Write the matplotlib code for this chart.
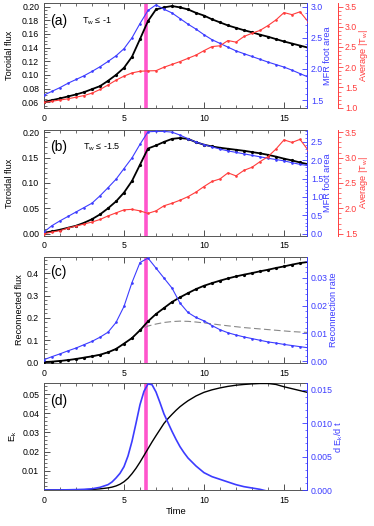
import numpy as np
import matplotlib
matplotlib.use("Agg")
import matplotlib.pyplot as plt
from matplotlib.ticker import MultipleLocator, FormatStrFormatter, FixedLocator

plt.rcParams['font.family'] = ['Liberation Sans', 'DejaVu Sans']
plt.rcParams['mathtext.fontset'] = 'custom'
plt.rcParams['mathtext.rm'] = 'Liberation Sans'
plt.rcParams['mathtext.it'] = 'Liberation Sans'
plt.rcParams['font.size'] = 6.3

# time grid of the sampled curves (0 to 16.5, step 0.5)
time = np.arange(34) * 0.5

# (a) Tw <= -1
a_flux = [0.0605, 0.063, 0.0655, 0.0684, 0.0713, 0.0747, 0.0791, 0.0835, 0.0913, 0.100,
          0.1104, 0.1266, 0.1525, 0.179, 0.196, 0.199, 0.201, 0.199, 0.196, 0.191,
          0.187, 0.1815, 0.177, 0.1725, 0.169, 0.1655, 0.1625, 0.159, 0.156, 0.1525,
          0.149, 0.146, 0.143, 0.140]
a_area = [1.58, 1.64, 1.70, 1.77, 1.83, 1.89, 1.96, 2.035, 2.12, 2.21,
          2.325, 2.50, 2.73, 2.94, 3.03, 2.96, 2.90, 2.81, 2.72, 2.64,
          2.55, 2.47, 2.41, 2.35, 2.29, 2.245, 2.20, 2.155, 2.11, 2.07,
          2.03, 1.98, 1.925, 1.87]
a_tw = [1.13, 1.16, 1.19, 1.22, 1.26, 1.30, 1.36, 1.45, 1.56, 1.68,
        1.78, 1.86, 1.90, 1.91, 1.915, 2.00, 2.07, 2.14, 2.22, 2.30,
        2.41, 2.51, 2.53, 2.66, 2.62, 2.76, 2.84, 2.91, 3.03, 3.17,
        3.35, 3.30, 3.37, 3.13]

# (b) Tw <= -1.5
b_flux = [0.002, 0.0045, 0.0078, 0.0117, 0.0156, 0.0214, 0.0286, 0.038, 0.050, 0.0636,
          0.081, 0.104, 0.136, 0.168, 0.174, 0.181, 0.187, 0.1887, 0.187, 0.1805,
          0.1755, 0.172, 0.1695, 0.1675, 0.1655, 0.1635, 0.161, 0.1585, 0.1555, 0.152,
          0.148, 0.1445, 0.1405, 0.137]
b_area = [0.05, 0.22, 0.35, 0.47, 0.59, 0.71, 0.83, 1.03, 1.25, 1.48,
          1.77, 2.06, 2.43, 2.77, 2.78, 2.78, 2.76, 2.68, 2.58, 2.49,
          2.42, 2.36, 2.30, 2.25, 2.21, 2.17, 2.13, 2.09, 2.05, 2.015,
          1.98, 1.93, 1.885, 1.85]
b_tw = [1.50, 1.53, 1.56, 1.61, 1.65, 1.69, 1.73, 1.78, 1.85, 1.91,
        1.97, 1.98, 1.95, 1.90, 1.95, 2.05, 2.10, 2.16, 2.23, 2.32,
        2.43, 2.53, 2.58, 2.70, 2.64, 2.75, 2.81, 2.92, 3.02, 3.17,
        3.35, 3.30, 3.36, 3.15]

# (c) reconnected flux and reconnection rate
c_flux = [0.001, 0.003, 0.006, 0.010, 0.015, 0.021, 0.027, 0.034, 0.045, 0.060,
          0.084, 0.109, 0.144, 0.184, 0.217, 0.244, 0.271, 0.292, 0.311, 0.329,
          0.344, 0.356, 0.367, 0.377, 0.386, 0.394, 0.401, 0.409, 0.416, 0.424,
          0.431, 0.439, 0.446, 0.451]
c_ref = [0.001, 0.003, 0.006, 0.010, 0.015, 0.021, 0.027, 0.034, 0.045, 0.060,
         0.084, 0.109, 0.144, 0.163, 0.172, 0.179, 0.183, 0.185, 0.184, 0.181,
         0.177, 0.173, 0.168, 0.164, 0.160, 0.156, 0.153, 0.150, 0.147, 0.144,
         0.141, 0.138, 0.136, 0.134]
c_rate = [0.0005, 0.0016, 0.0026, 0.0037, 0.0047, 0.0059, 0.0071, 0.0086, 0.0104, 0.0139,
          0.0197, 0.0283, 0.0355, 0.0371, 0.0335, 0.0299, 0.0263, 0.0209, 0.0175, 0.0157,
          0.0145, 0.0128, 0.0113, 0.0102, 0.0094, 0.0087, 0.0081, 0.0075, 0.0069, 0.0065,
          0.0060, 0.0056, 0.0052, 0.0048]

# (d) Ek and dEk/dt
t_d = [0, 0.5, 1, 1.5, 2, 2.5, 3, 3.5, 4, 4.25, 4.5, 4.75, 5, 5.25, 5.5, 5.75,
       6, 6.25, 6.5, 6.75, 7, 7.25, 7.5, 7.75, 8, 8.25, 8.5, 8.75, 9, 9.5,
       10, 10.5, 11, 11.5, 12, 12.5, 13, 13.5, 14, 14.5, 15, 15.5, 16, 16.5]
ek = [0.0, 0.0, 0.0, 0.00005, 0.0001, 0.00015, 0.0003, 0.0006, 0.0011, 0.0015,
      0.0021, 0.0030, 0.0043, 0.0061, 0.0085, 0.0113, 0.0145, 0.018, 0.0215, 0.025,
      0.0283, 0.0315, 0.0347, 0.0372, 0.0394, 0.0415, 0.0434, 0.045, 0.0465, 0.049,
      0.0509, 0.0522, 0.0532, 0.054, 0.0546, 0.055, 0.0553, 0.0555, 0.0555, 0.0550,
      0.0538, 0.0528, 0.0518, 0.0508]
dek = [0.0, 0.0, 0.00001, 0.00003, 0.00006, 0.0001, 0.00018, 0.0004, 0.0008, 0.0012,
       0.0018, 0.0025, 0.0035, 0.0051, 0.0073, 0.0100, 0.0128, 0.0148, 0.0159, 0.0158,
       0.0147, 0.0131, 0.0114, 0.0101, 0.0088, 0.0076, 0.0065, 0.0056, 0.0048, 0.0036,
       0.0026, 0.0020, 0.0016, 0.0012, 0.0008, 0.0005, 0.0003, 0.0001, -0.0002, np.nan,
       np.nan, np.nan, np.nan, np.nan]

t_peak = 6.37
BLUE = '#3c3cff'
RED = '#ff3c3c'
MAG = '#ff55cc'
W, H = 374, 526


def px(x, y):
    return x / W, 1 - y / H


def base(ax):
    ax.set_xlim(0, 16.42)
    ax.xaxis.set_major_locator(MultipleLocator(5))
    ax.xaxis.set_minor_locator(MultipleLocator(1))
    ax.tick_params(which='both', direction='in', top=True, right=False, pad=3.5,
                   color='#333333')
    ax.tick_params(which='major', length=4, width=0.6)
    ax.tick_params(which='minor', length=2, width=0.5)
    ax.tick_params(axis='x', pad=4)
    for s in ax.spines.values():
        s.set_linewidth(0.7)
        s.set_color('#555555')
    ax.axvline(t_peak, color=MAG, lw=2.6, zorder=0.5)


def right(ax, color, pos=None):
    tw = ax.twinx()
    tw.set_xlim(ax.get_xlim())
    if pos is not None:
        tw.spines['right'].set_position(('axes', pos))
        tw.tick_params(which='both', direction='out', pad=1.5)
    else:
        tw.tick_params(which='both', direction='in', pad=3)
    tw.tick_params(which='major', length=3.5, width=0.6, colors=color)
    tw.tick_params(which='minor', length=1.8, width=0.5, colors=color)
    tw.spines['right'].set_color(color)
    tw.spines['right'].set_linewidth(0.7)
    for k in ('left', 'top', 'bottom'):
        tw.spines[k].set_visible(False)
    return tw


def ylab(x, y0, y1, text, color='black'):
    fig.text(*px(x, (y0 + y1) / 2), text, rotation=90, ha='center', va='center',
             color=color, fontsize=6.6)


fig = plt.figure(figsize=(3.74, 5.26), dpi=100)
x0, x1 = 44, 306.7
rows = [(3.3, 108.3), (130, 235.7), (256.7, 363.3), (383.3, 490)]
axes = []
for top, bot in rows:
    ax = fig.add_axes([x0 / W, 1 - bot / H, (x1 - x0) / W, (bot - top) / H])
    base(ax)
    axes.append(ax)

mk = dict(marker='o', ms=2.3, mew=0)

# panel (a)
ax = axes[0]
ax.plot(time, a_flux, color='black', lw=1.3, **mk, zorder=3)
ax.set_ylim(0.051, 0.205)
ax.yaxis.set_major_locator(MultipleLocator(0.02))
ax.yaxis.set_minor_locator(MultipleLocator(0.005))
ax.yaxis.set_major_formatter(FormatStrFormatter('%.2f'))
tb = right(ax, BLUE)
tb.plot(time, a_area, color=BLUE, lw=0.8, marker='o', ms=1.9, mew=0)
tb.set_ylim(1.367, 3.055)
tb.yaxis.set_major_locator(MultipleLocator(0.5))
tb.yaxis.set_minor_locator(MultipleLocator(0.1))
tb.yaxis.set_major_formatter(FormatStrFormatter('%.1f'))
tr = right(ax, RED, 1.119)
tr.plot(time, a_tw, color=RED, lw=0.8, marker='o', ms=1.9, mew=0)
tr.set_ylim(0.985, 3.58)
tr.yaxis.set_major_locator(MultipleLocator(0.5))
tr.yaxis.set_minor_locator(MultipleLocator(0.1))
tr.yaxis.set_major_formatter(FormatStrFormatter('%.1f'))
ax.text(0.022, 0.83, '(a)', transform=ax.transAxes, fontsize=10, va='center')
ax.text(0.145, 0.83, r'T$_\mathrm{w}$ ≤ -1', transform=ax.transAxes, fontsize=6.5,
        va='center')
ylab(10, *rows[0], 'Toroidal flux')
ylab(327, *rows[0], 'MFR foot area', BLUE)
ylab(364, *rows[0], r'Average |T$_\mathrm{w}$|', RED)

# panel (b)
ax = axes[1]
ax.plot(time, b_flux, color='black', lw=1.3, **mk, zorder=3)
ax.set_ylim(-0.004, 0.2045)
ax.yaxis.set_major_locator(MultipleLocator(0.05))
ax.yaxis.set_minor_locator(MultipleLocator(0.01))
ax.yaxis.set_major_formatter(FormatStrFormatter('%.2f'))
tb = right(ax, BLUE)
tb.plot(time, b_area, color=BLUE, lw=0.8, marker='o', ms=1.9, mew=0)
tb.set_ylim(-0.054, 2.818)
tb.yaxis.set_major_locator(MultipleLocator(0.5))
tb.yaxis.set_minor_locator(MultipleLocator(0.1))
tb.yaxis.set_major_formatter(FormatStrFormatter('%.1f'))
tr = right(ax, RED, 1.119)
tr.plot(time, b_tw, color=RED, lw=0.8, marker='o', ms=1.9, mew=0)
tr.set_ylim(1.46, 3.545)
tr.yaxis.set_major_locator(MultipleLocator(0.5))
tr.yaxis.set_minor_locator(MultipleLocator(0.1))
tr.yaxis.set_major_formatter(FormatStrFormatter('%.1f'))
ax.text(0.022, 0.84, '(b)', transform=ax.transAxes, fontsize=10, va='center')
ax.text(0.148, 0.84, r'T$_\mathrm{w}$ ≤ -1.5', transform=ax.transAxes, fontsize=6.5,
        va='center')
ylab(10, *rows[1], 'Toroidal flux')
ylab(327, *rows[1], 'MFR foot area', BLUE)
ylab(364, *rows[1], r'Average |T$_\mathrm{w}$|', RED)

# panel (c)
ax = axes[2]
ax.plot(time, c_ref, color='#888888', lw=0.8, ls=(0, (6, 3)), zorder=2)
ax.plot(time, c_flux, color='black', lw=1.3, **mk, zorder=3)
ax.set_ylim(-0.0045, 0.4746)
ax.yaxis.set_major_locator(MultipleLocator(0.1))
ax.yaxis.set_minor_locator(MultipleLocator(0.02))
ax.yaxis.set_major_formatter(FormatStrFormatter('%.1f'))
tb = right(ax, BLUE)
tb.plot(time, c_rate, color=BLUE, lw=0.8, marker='o', ms=1.9, mew=0)
tb.set_ylim(-0.0008, 0.0376)
tb.yaxis.set_major_locator(MultipleLocator(0.01))
tb.yaxis.set_minor_locator(MultipleLocator(0.002))
tb.yaxis.set_major_formatter(FormatStrFormatter('%.2f'))
ax.text(0.022, 0.857, '(c)', transform=ax.transAxes, fontsize=10, va='center')
ylab(20, *rows[2], 'Reconnected flux')
ylab(333, *rows[2], 'Reconnection rate', BLUE)

# panel (d)
ax = axes[3]
ax.plot(t_d, ek, color='black', lw=1.0, zorder=3)
ax.set_ylim(0, 0.0556)
ax.yaxis.set_major_locator(FixedLocator([0.01, 0.02, 0.03, 0.04, 0.05]))
ax.yaxis.set_minor_locator(MultipleLocator(0.002))
ax.yaxis.set_major_formatter(FormatStrFormatter('%.2f'))
tb = right(ax, BLUE)
tb.plot(t_d, dek, color=BLUE, lw=1.2)
tb.set_ylim(0, 0.016)
tb.yaxis.set_major_locator(MultipleLocator(0.005))
tb.yaxis.set_minor_locator(MultipleLocator(0.001))
tb.yaxis.set_major_formatter(FormatStrFormatter('%.3f'))
ax.text(0.022, 0.834, '(d)', transform=ax.transAxes, fontsize=10, va='center')
ylab(13, *rows[3], r'E$_\mathrm{k}$')
ylab(339, *rows[3], r'd E$_\mathrm{k}$/d t', BLUE)
fig.text(*px(176, 512), 'Time', ha='center', va='center', fontsize=6.8)

fig.savefig('out.png', dpi=100)
